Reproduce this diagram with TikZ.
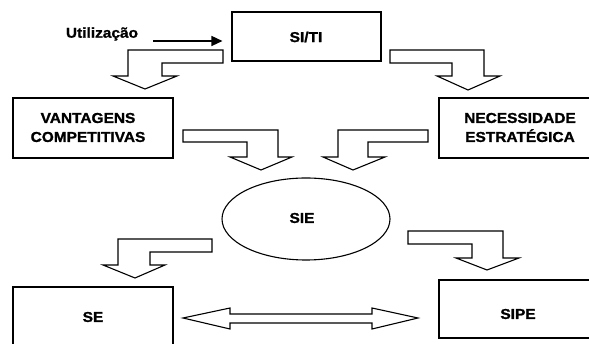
\documentclass[tikz,border=0pt]{standalone}
\usepackage{fontspec}
\setmainfont{Liberation Sans}
\newfontfamily\lblfont[FakeStretch=1.08, BoldFeatures={FakeStretch=1.08, FakeBold=1.3}]{Liberation Sans}
\usetikzlibrary{shapes.geometric,arrows.meta,calc}
\tikzset{
  boxnode/.style={draw=black, line width=1.1pt, inner sep=0pt, fill=white},
  lbl/.style={font=\lblfont\bfseries\fontsize{14.3}{19}\selectfont, align=center, inner sep=0pt},
  blockarrow/.style={draw=black, line width=1.1pt, fill=white, line join=miter},
  thinarrow/.style={draw=black, line width=1.4pt, -{Triangle[length=11pt,width=10pt]}}
}
\begin{document}
\begin{tikzpicture}[x=1pt,y=-1pt]
\useasboundingbox (0,0) rectangle (589,344);
\clip (0,0) rectangle (589,344);

% boxes
\node[boxnode, minimum width=149pt, minimum height=49pt] (siti) at (306.5,36.5) {};
\node[boxnode, minimum width=160pt, minimum height=60pt] (vant) at (93,128) {};
\node[boxnode, minimum width=160pt, minimum height=60pt] (nece) at (519,128) {};
\node[boxnode, draw, ellipse, minimum width=168pt, minimum height=82pt] (sie) at (306,219) {};
\node[boxnode, minimum width=160pt, minimum height=70pt] (se) at (93,322) {};
\node[boxnode, minimum width=160pt, minimum height=58pt] (sipe) at (519,309) {};

% labels
\node[lbl] (sititxt) at (306,37) {SI/TI};
\node[lbl] (vanttxt) at (88,127.5) {VANTAGENS\\COMPETITIVAS};
\node[lbl] (necetxt) at (520,127.5) {NECESSIDADE\\ESTRATÉGICA};
\node[lbl] (sietxt) at (302,218) {SIE};
\node[lbl] (setxt) at (93,317) {SE};
\node[lbl] (sipetxt) at (518,314) {SIPE};
\node[lbl] (util) at (102,34) {Utilização};

% arrow from the label into SI/TI
\coordinate (ua) at (153,41);
\draw[thinarrow] (ua) -- (ua -| siti.west) [shorten >=9pt];

% bent block arrows
\draw[blockarrow] (223,50) -- (128,50) -- (128,76) -- (113,76) -- (145,89)
  -- (177,76) -- (162,76) -- (162,63) -- (223,63) -- cycle;
\draw[blockarrow] (390,50) -- (484,50) -- (484,76) -- (500,76) -- (468,90)
  -- (437,76) -- (452,76) -- (452,63) -- (390,63) -- cycle;
\draw[blockarrow] (183,130) -- (278,130) -- (278,157) -- (292,157) -- (261,170)
  -- (230,157) -- (247,157) -- (247,142) -- (183,142) -- cycle;
\draw[blockarrow] (428,130) -- (338,130) -- (338,157) -- (323,157) -- (353,170)
  -- (385,157) -- (368,157) -- (368,142) -- (428,142) -- cycle;
\draw[blockarrow] (212,239) -- (118,239) -- (118,265) -- (103,265) -- (135,278)
  -- (165,265) -- (150,265) -- (150,252) -- (212,252) -- cycle;
\draw[blockarrow] (408,231) -- (503,231) -- (503,258) -- (519,258) -- (487,270)
  -- (456,258) -- (472,258) -- (472,244) -- (408,244) -- cycle;

% double block arrow between SE and SIPE
\draw[blockarrow] (183,318) -- (230,308) -- (230,314) -- (372,314) -- (372,308)
  -- (418,318) -- (372,329) -- (372,323) -- (230,323) -- (230,329) -- cycle;
\end{tikzpicture}
\end{document}
